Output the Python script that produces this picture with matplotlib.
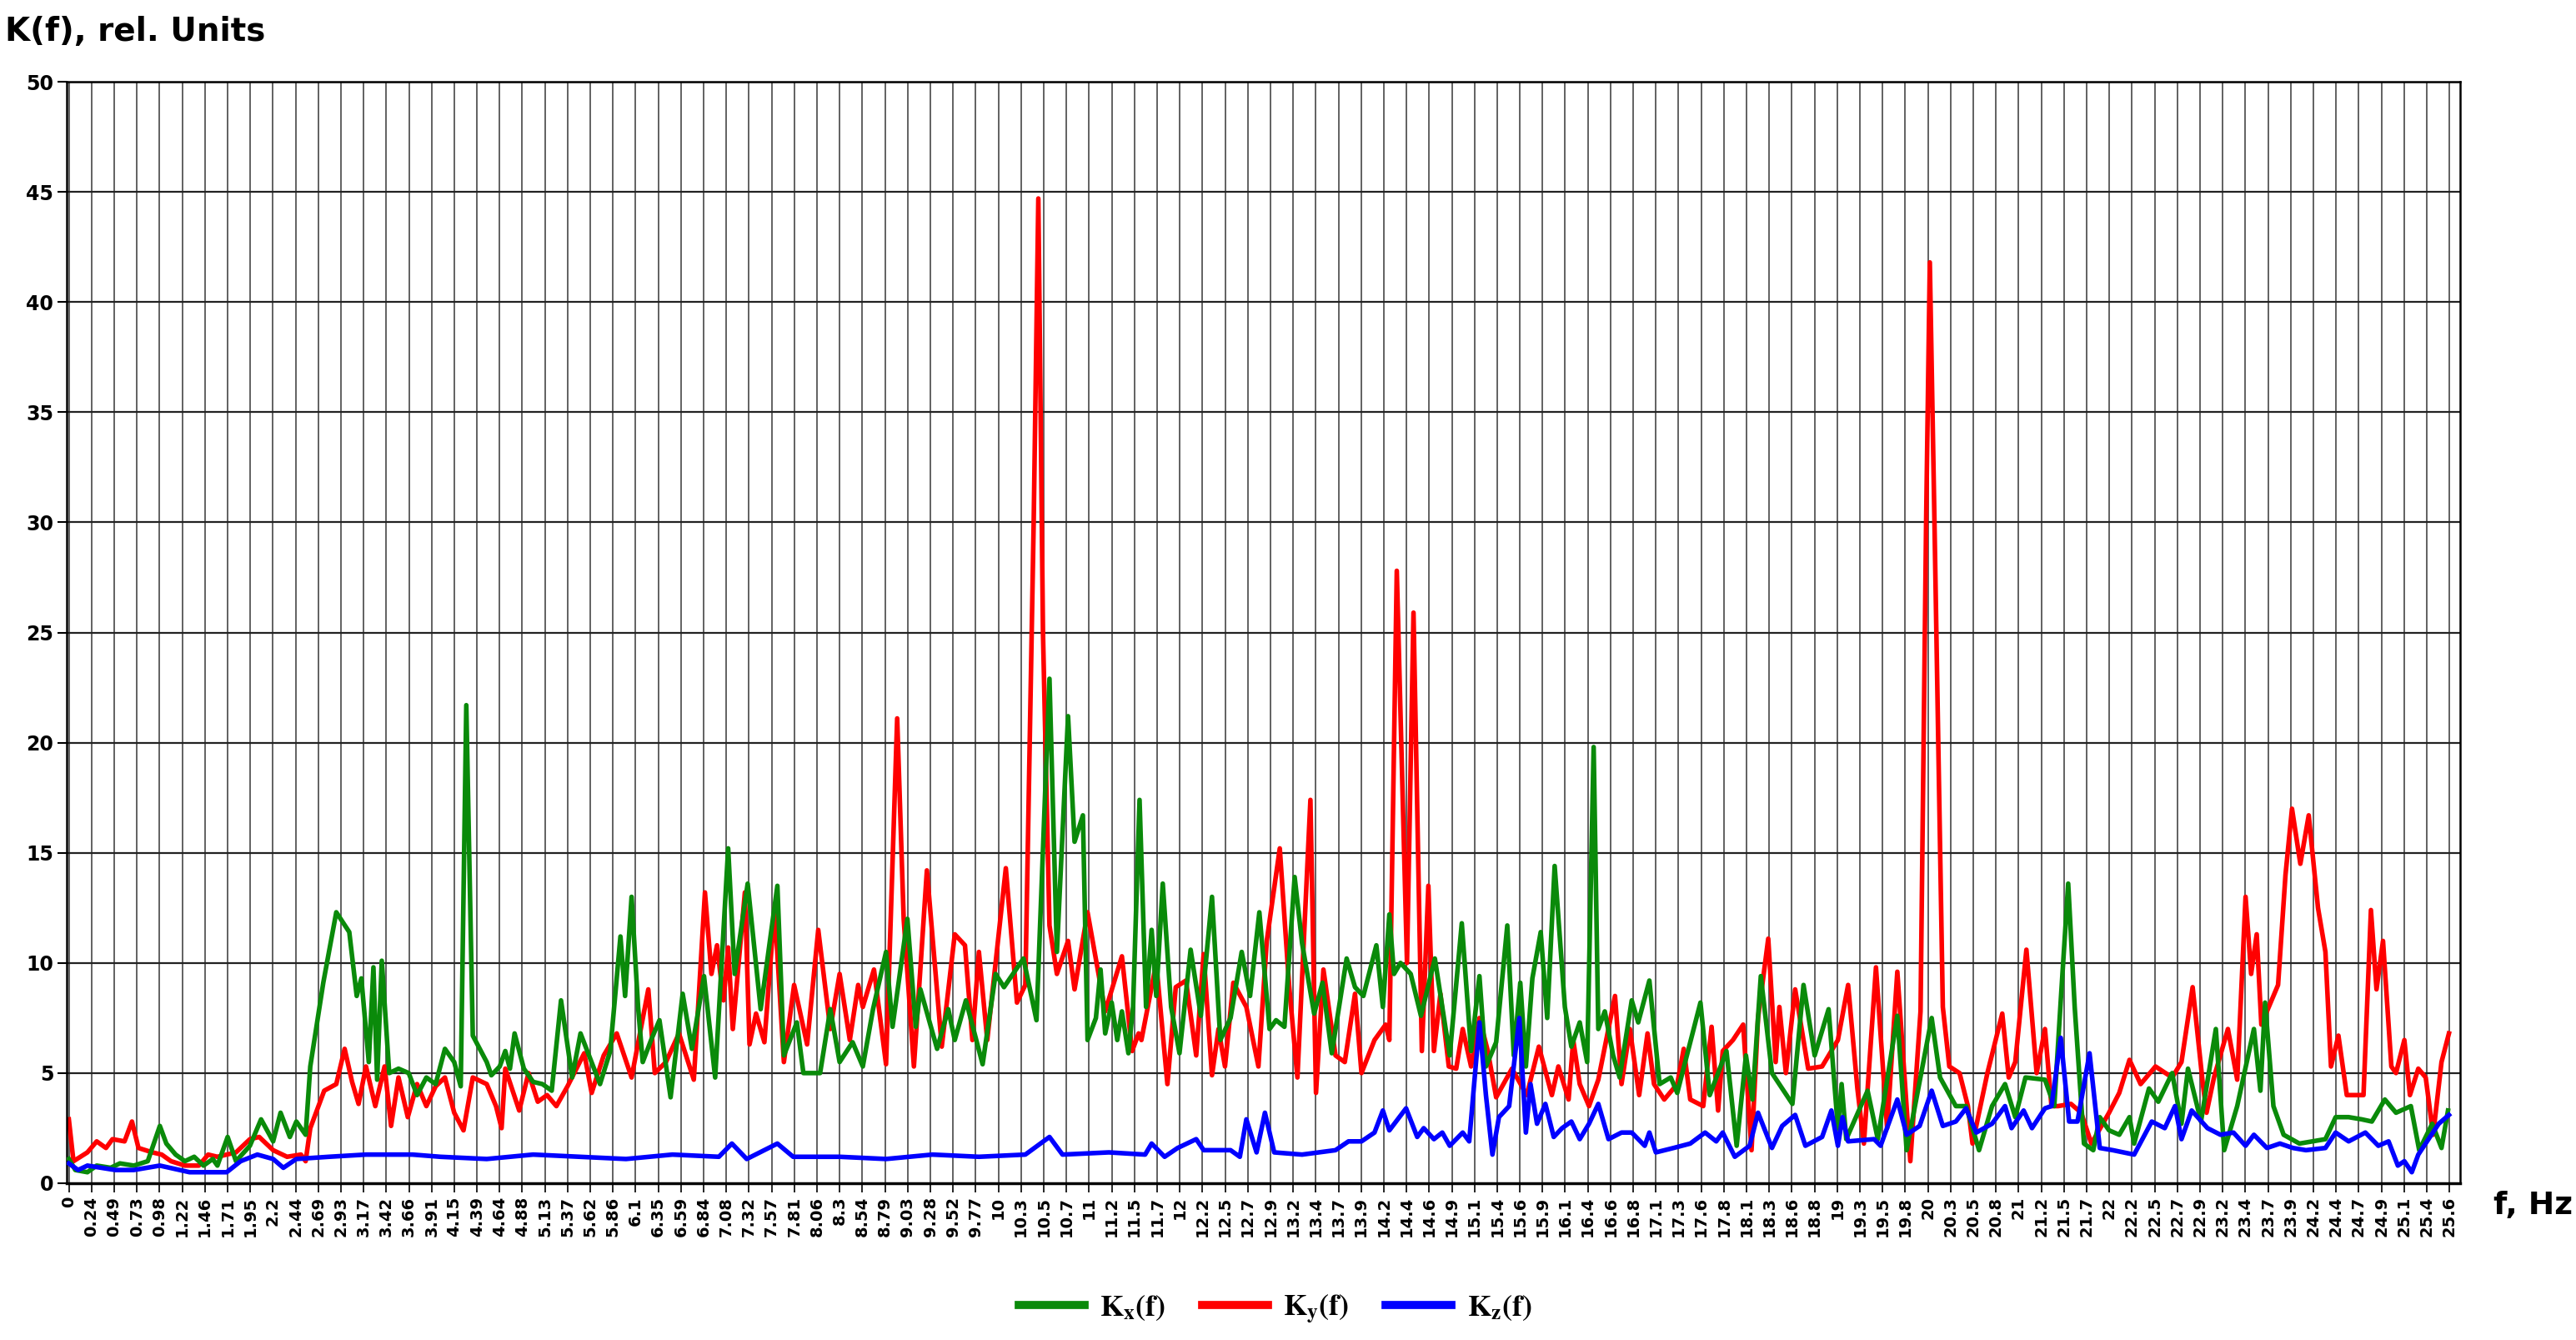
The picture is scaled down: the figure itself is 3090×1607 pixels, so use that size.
import numpy as np
import matplotlib
matplotlib.use("Agg")
import matplotlib.pyplot as plt

# frequency axis labels (one every 10 spectral bins, 0.244 Hz apart)
tick_f = np.arange(106) * 0.244140625
tick_labels = [f"{round(v, 2 if v < 10 else 1):g}" for v in tick_f]

# Kx(f) - green
kx_f = [0, 0.07, 0.2, 0.3, 0.45, 0.55, 0.7, 0.85, 0.98, 1.05, 1.15, 1.25, 1.35, 1.45, 1.55, 1.6, 1.71, 1.8,
        1.95, 2.07, 2.2, 2.28, 2.38, 2.45, 2.55, 2.6, 2.74, 2.88, 3.02, 3.1, 3.15, 3.23, 3.28, 3.32, 3.37, 3.45,
        3.55, 3.66, 3.75, 3.85, 3.95, 4.05, 4.15, 4.22, 4.28, 4.35, 4.5, 4.55, 4.64, 4.7, 4.75, 4.8, 4.9, 5.0,
        5.1, 5.2, 5.3, 5.42, 5.51, 5.72, 5.83, 5.94, 5.99, 6.06, 6.13, 6.18, 6.27, 6.36, 6.48, 6.61, 6.71, 6.84,
        6.96, 7.1, 7.17, 7.31, 7.45, 7.63, 7.7, 7.84, 7.91, 8.09, 8.2, 8.3, 8.44, 8.55, 8.66, 8.8, 8.87, 9.03,
        9.12, 9.17, 9.35, 9.47, 9.54, 9.66, 9.84, 9.98, 10.07, 10.28, 10.42, 10.56, 10.64, 10.76, 10.83, 10.92,
        10.97, 11.06, 11.11, 11.16, 11.23, 11.29, 11.34, 11.41, 11.46, 11.53, 11.6, 11.66, 11.71, 11.78, 11.87,
        11.96, 12.08, 12.19, 12.31, 12.4, 12.51, 12.63, 12.72, 12.82, 12.93, 13.0, 13.09, 13.2, 13.28, 13.41,
        13.5, 13.6, 13.76, 13.85, 13.94, 14.08, 14.15, 14.22, 14.27, 14.34, 14.45, 14.56, 14.71, 14.87, 15.0,
        15.1, 15.19, 15.26, 15.37, 15.49, 15.56, 15.63, 15.69, 15.76, 15.85, 15.92, 16.0, 16.11, 16.18, 16.27,
        16.35, 16.42, 16.47, 16.54, 16.63, 16.7, 16.83, 16.9, 17.02, 17.13, 17.25, 17.32, 17.57, 17.67, 17.85,
        17.96, 18.06, 18.13, 18.22, 18.34, 18.56, 18.68, 18.8, 18.95, 19.05, 19.09, 19.14, 19.37, 19.48, 19.69,
        19.79, 20.06, 20.15, 20.32, 20.43, 20.57, 20.71, 20.85, 20.96, 21.07, 21.28, 21.38, 21.45, 21.53, 21.6,
        21.7, 21.8, 21.87, 21.97, 22.08, 22.19, 22.24, 22.4, 22.5, 22.65, 22.75, 22.82, 22.96, 23.12, 23.21,
        23.35, 23.53, 23.6, 23.65, 23.74, 23.85, 24.02, 24.16, 24.3, 24.41, 24.55, 24.69, 24.8, 24.94, 25.06,
        25.22, 25.31, 25.45, 25.55, 25.62]
kx_v = [1.1, 0.6, 0.5, 0.8, 0.7, 0.9, 0.8, 1.0, 2.6, 1.8, 1.3, 1.0, 1.2, 0.8, 1.1, 0.8, 2.1, 1.0,
        1.7, 2.9, 1.9, 3.2, 2.1, 2.8, 2.2, 5.3, 9.1, 12.3, 11.4, 8.5, 9.3, 5.5, 9.8, 4.7, 10.1, 5.0,
        5.2, 5.0, 4.0, 4.8, 4.5, 6.1, 5.5, 4.4, 21.7, 6.7, 5.5, 4.9, 5.3, 6.0, 5.2, 6.8, 5.2, 4.6,
        4.5, 4.2, 8.3, 4.8, 6.8, 4.5, 6.0, 11.2, 8.5, 13.0, 8.0, 5.5, 6.5, 7.4, 3.9, 8.6, 6.1, 9.4,
        4.8, 15.2, 9.5, 13.6, 7.9, 13.5, 5.8, 7.3, 5.0, 5.0, 7.9, 5.5, 6.4, 5.3, 7.9, 10.5, 7.1, 12.0,
        7.1, 8.8, 6.1, 7.9, 6.5, 8.3, 5.4, 9.5, 8.9, 10.2, 7.4, 22.9, 10.5, 21.2, 15.5, 16.7,
        6.5, 7.5, 9.7, 6.8, 8.2, 6.5, 7.8, 5.9, 8.0, 17.4, 8.0, 11.5, 8.5, 13.6, 8.0,
        5.9, 10.6, 7.6, 13.0, 6.5, 7.5, 10.5, 8.5, 12.3, 7.0, 7.4, 7.1, 13.9, 10.9, 7.7,
        9.1, 5.9, 10.2, 8.9, 8.5, 10.8, 8.0, 12.2, 9.5, 10.0, 9.5, 7.6, 10.2, 5.8, 11.8,
        6.0, 9.4, 5.3, 6.4, 11.7, 5.8, 9.1, 5.3, 9.3, 11.4, 7.5, 14.4, 8.0, 6.2, 7.3,
        5.5, 19.8, 7.0, 7.8, 5.8, 4.8, 8.3, 7.3, 9.2, 4.5, 4.8, 4.1, 8.2, 4.0, 6.0,
        1.7, 5.8, 3.8, 9.4, 5.0, 3.6, 9.0, 5.8, 7.9, 2.5, 4.5, 2.0, 4.2, 2.0, 7.6,
        1.5, 7.5, 4.8, 3.5, 3.5, 1.5, 3.5, 4.5, 3.0, 4.8, 4.7, 3.5, 8.3, 13.6, 8.0,
        1.8, 1.5, 3.0, 2.4, 2.2, 3.0, 1.8, 4.3, 3.7, 5.0, 2.7, 5.2, 2.8, 7.0, 1.5,
        3.5, 7.0, 4.2, 8.2, 3.5, 2.2, 1.8, 1.9, 2.0, 3.0, 3.0, 2.9, 2.8, 3.8, 3.2,
        3.5, 1.5, 2.7, 1.6, 3.3]

# Ky(f) - red
ky_f = [0, 0.05, 0.2, 0.3, 0.4, 0.47, 0.6, 0.68, 0.75, 0.9, 1.0, 1.1, 1.25, 1.4, 1.5, 1.6, 1.8, 1.95, 2.05,
        2.2, 2.35, 2.5, 2.55, 2.6, 2.75, 2.88, 2.97, 3.05, 3.12, 3.2, 3.3, 3.4, 3.47, 3.55, 3.65, 3.75, 3.85,
        3.95, 4.05, 4.15, 4.25, 4.35, 4.5, 4.6, 4.66, 4.7, 4.85, 4.95, 5.05, 5.15, 5.25, 5.37, 5.55, 5.63,
        5.76, 5.9, 6.06, 6.24, 6.31, 6.43, 6.57, 6.73, 6.85, 6.92, 6.98, 7.05, 7.1, 7.15, 7.28, 7.33, 7.4,
        7.49, 7.6, 7.7, 7.81, 7.95, 8.07, 8.2, 8.3, 8.41, 8.5, 8.55, 8.67, 8.8, 8.92, 8.99, 9.1, 9.24, 9.4,
        9.54, 9.65, 9.73, 9.8, 9.89, 10.09, 10.21, 10.3, 10.39, 10.44, 10.49, 10.56, 10.64, 10.76, 10.83,
        10.97, 11.16, 11.34, 11.45, 11.52, 11.55, 11.71, 11.83, 11.92, 12.03, 12.14, 12.22, 12.31, 12.38,
        12.45, 12.54, 12.68, 12.81, 12.9, 13.04, 13.14, 13.23, 13.37, 13.43, 13.51, 13.64, 13.74, 13.85,
        13.92, 14.06, 14.18, 14.22, 14.3, 14.41, 14.48, 14.57, 14.64, 14.7, 14.77, 14.86, 14.94, 15.01,
        15.1, 15.19, 15.28, 15.37, 15.54, 15.7, 15.83, 15.97, 16.04, 16.15, 16.2, 16.27, 16.37, 16.47,
        16.65, 16.72, 16.81, 16.91, 17.0, 17.07, 17.18, 17.32, 17.39, 17.46, 17.6, 17.69, 17.76, 17.81,
        17.92, 18.03, 18.12, 18.19, 18.3, 18.38, 18.42, 18.49, 18.59, 18.73, 18.88, 19.05, 19.16, 19.26,
        19.33, 19.46, 19.58, 19.69, 19.83, 19.94, 20.0, 20.04, 20.09, 20.18, 20.25, 20.36, 20.45, 20.5,
        20.66, 20.82, 20.89, 20.96, 21.08, 21.19, 21.28, 21.35, 21.42, 21.56, 21.67, 21.78, 21.97, 22.08,
        22.19, 22.31, 22.47, 22.65, 22.75, 22.87, 22.98, 23.02, 23.1, 23.25, 23.35, 23.44, 23.5, 23.56,
        23.61, 23.72, 23.79, 23.87, 23.94, 24.03, 24.12, 24.22, 24.3, 24.36, 24.44, 24.53, 24.71, 24.79,
        24.85, 24.92, 25.01, 25.06, 25.15, 25.21, 25.3, 25.38, 25.46, 25.55, 25.63]
ky_v = [2.9, 1.0, 1.4, 1.9, 1.6, 2.0, 1.9, 2.8, 1.6, 1.4, 1.3, 1.0, 0.8, 0.8, 1.3, 1.2, 1.4, 2.0, 2.1,
        1.5, 1.2, 1.3, 1.0, 2.5, 4.2, 4.5, 6.1, 4.6, 3.6, 5.3, 3.5, 5.3, 2.6, 4.8, 3.0, 4.5, 3.5,
        4.4, 4.8, 3.2, 2.4, 4.8, 4.5, 3.5, 2.5, 5.2, 3.3, 5.0, 3.7, 4.0, 3.5, 4.4, 5.9, 4.1,
        5.8, 6.8, 4.8, 8.8, 5.0, 5.5, 6.8, 4.7, 13.2, 9.5, 10.8, 8.3, 10.7, 7.0, 13.2, 6.3, 7.7,
        6.4, 12.5, 5.5, 9.0, 6.3, 11.5, 7.0, 9.5, 6.5, 9.0, 8.0, 9.7, 5.4, 21.1, 12.0, 5.3, 14.2, 6.2,
        11.3, 10.8, 6.5, 10.5, 6.5, 14.3, 8.2, 9.0, 30.0, 44.7, 25.0, 11.7, 9.5, 11.0, 8.8,
        12.3, 7.8, 10.3, 6.0, 6.8, 6.5, 10.0, 4.5, 8.9, 9.2, 5.8, 10.4, 4.9, 7.0,
        5.3, 9.1, 8.0, 5.3, 11.0, 15.2, 9.0, 4.8, 17.4, 4.1, 9.7, 5.8, 5.5, 8.6,
        5.0, 6.5, 7.2, 6.5, 27.8, 10.0, 25.9, 6.0, 13.5, 6.0, 8.6, 5.3, 5.2, 7.0,
        5.3, 7.5, 6.0, 3.9, 5.2, 4.0, 6.2, 4.0, 5.3, 3.8, 6.5, 4.5, 3.5, 4.7,
        8.5, 4.5, 7.0, 4.0, 6.8, 4.5, 3.8, 4.5, 6.1, 3.8, 3.5, 7.1, 3.3, 6.0,
        6.5, 7.2, 1.5, 7.5, 11.1, 5.5, 8.0, 5.0, 8.8, 5.2, 5.3, 6.5, 9.0, 4.3,
        1.8, 9.8, 2.5, 9.6, 1.0, 7.8, 30.0, 41.8, 30.0, 8.0, 5.3, 5.0, 3.5, 1.8,
        5.0, 7.7, 4.8, 5.5, 10.6, 5.0, 7.0, 3.5, 3.5, 3.6, 3.2, 1.8, 3.2, 4.1,
        5.6, 4.5, 5.3, 4.8, 5.5, 8.9, 4.5, 3.2, 4.8, 7.0, 4.7, 13.0, 9.5, 11.3,
        7.2, 8.3, 9.0, 14.0, 17.0, 14.5, 16.7, 12.5, 10.5, 5.3, 6.7, 4.0, 4.0, 12.4,
        8.8, 11.0, 5.3, 5.0, 6.5, 4.0, 5.2, 4.8, 2.2, 5.5, 6.8]

# Kz(f) - blue
kz_f = [0, 0.1, 0.2, 0.5, 0.7, 0.98, 1.3, 1.7, 1.85, 2.03, 2.2, 2.31, 2.45, 2.8, 3.2, 3.7, 4.0, 4.5, 5.0,
        5.5, 6.0, 6.5, 7.0, 7.14, 7.3, 7.63, 7.8, 8.3, 8.8, 9.3, 9.8, 10.3, 10.56, 10.7, 11.2, 11.59, 11.66,
        11.8, 11.94, 12.14, 12.22, 12.51, 12.61, 12.68, 12.79, 12.88, 12.98, 13.28, 13.64, 13.78, 13.92,
        14.06, 14.15, 14.22, 14.4, 14.52, 14.59, 14.7, 14.79, 14.87, 15.01, 15.08, 15.19, 15.26, 15.33, 15.4,
        15.51, 15.62, 15.69, 15.74, 15.81, 15.9, 15.99, 16.08, 16.18, 16.27, 16.37, 16.47, 16.58, 16.72,
        16.83, 16.97, 17.02, 17.09, 17.28, 17.46, 17.62, 17.74, 17.81, 17.94, 18.1, 18.19, 18.34, 18.45,
        18.59, 18.7, 18.88, 18.98, 19.05, 19.1, 19.16, 19.44, 19.51, 19.69, 19.79, 19.93, 20.06, 20.18,
        20.32, 20.43, 20.54, 20.71, 20.85, 20.92, 21.05, 21.14, 21.28, 21.35, 21.45, 21.54, 21.63, 21.76,
        21.87, 22.01, 22.24, 22.43, 22.57, 22.68, 22.75, 22.86, 23.03, 23.17, 23.31, 23.44, 23.53, 23.67,
        23.81, 23.95, 24.09, 24.3, 24.41, 24.55, 24.73, 24.87, 24.98, 25.08, 25.15, 25.23, 25.3, 25.41,
        25.52, 25.63]
kz_v = [0.9, 0.6, 0.8, 0.6, 0.6, 0.8, 0.5, 0.5, 1.0, 1.3, 1.1, 0.7, 1.1, 1.2, 1.3, 1.3, 1.2, 1.1, 1.3,
        1.2, 1.1, 1.3, 1.2, 1.8, 1.1, 1.8, 1.2, 1.2, 1.1, 1.3, 1.2, 1.3, 2.1, 1.3, 1.4, 1.3, 1.8,
        1.2, 1.6, 2.0, 1.5, 1.5, 1.2, 2.9, 1.4, 3.2, 1.4, 1.3, 1.5, 1.9, 1.9,
        2.3, 3.3, 2.4, 3.4, 2.1, 2.5, 2.0, 2.3, 1.7, 2.3, 1.9, 7.3, 4.0, 1.3, 3.0,
        3.5, 7.5, 2.3, 4.5, 2.7, 3.6, 2.1, 2.5, 2.8, 2.0, 2.7, 3.6, 2.0, 2.3,
        2.3, 1.7, 2.3, 1.4, 1.6, 1.8, 2.3, 1.9, 2.3, 1.2, 1.7, 3.2, 1.6, 2.6,
        3.1, 1.7, 2.1, 3.3, 1.7, 3.0, 1.9, 2.0, 1.7, 3.8, 2.2, 2.6, 4.2, 2.6,
        2.8, 3.4, 2.3, 2.7, 3.5, 2.5, 3.3, 2.5, 3.4, 3.5, 6.6, 2.8, 2.8, 5.9,
        1.6, 1.5, 1.3, 2.8, 2.5, 3.5, 2.0, 3.3, 2.5, 2.2, 2.3, 1.7, 2.2, 1.6,
        1.8, 1.6, 1.5, 1.6, 2.3, 1.9, 2.3, 1.7, 1.9, 0.8, 1.0, 0.5, 1.3, 2.0,
        2.7, 3.1]

plt.rcParams["mathtext.fontset"] = "stix"

fig = plt.figure(figsize=(30.9, 16.07), dpi=100)
ax = fig.add_axes([0.026, 0.117, 0.929, 0.822])

for f in tick_f:
    ax.axvline(f, color="#555555", lw=1.3, zorder=0)
for y in range(5, 51, 5):
    ax.axhline(y, color="#222222", lw=1.6, zorder=0)

lw = 4.0
ax.plot(kx_f, kx_v, color="#0a8a0a", lw=lw, zorder=3, label=r"$\mathbf{K}_\mathbf{x}\mathbf{(f)}$")
ax.plot(ky_f, ky_v, color="#ff0000", lw=lw, zorder=2, label=r"$\mathbf{K}_\mathbf{y}\mathbf{(f)}$")
ax.plot(kz_f, kz_v, color="#0000ff", lw=lw, zorder=4, label=r"$\mathbf{K}_\mathbf{z}\mathbf{(f)}$")

ax.set_xlim(-0.02, 25.75)
ax.set_ylim(0, 50)
ax.set_yticks(range(0, 51, 5))
ax.set_xticks(tick_f)
ax.set_xticklabels(tick_labels, rotation=90, fontsize=14, fontweight="bold")
ax.tick_params(axis="y", labelsize=17, length=8, width=1.5)
for lab in ax.get_yticklabels():
    lab.set_fontweight("bold")
ax.tick_params(axis="x", length=8, width=1.2)
for s in ax.spines.values():
    s.set_color("black")
    s.set_linewidth(1.8)
ax.spines["bottom"].set_linewidth(2.5)

fig.text(0.002, 0.988, "K(f), rel. Units", fontsize=28, fontweight="bold", va="top", ha="left")
fig.text(0.968, 0.100, "f, Hz", fontsize=27, fontweight="bold", va="center", ha="left")

leg = fig.legend(loc="center", bbox_to_anchor=(0.495, 0.023), ncol=3, frameon=False,
                 prop={"size": 26, "family": "serif"}, handlelength=2.2, columnspacing=1.2,
                 handletextpad=0.5)
for h in leg.get_lines():
    h.set_linewidth(7)

fig.savefig("out.png", dpi=100)
